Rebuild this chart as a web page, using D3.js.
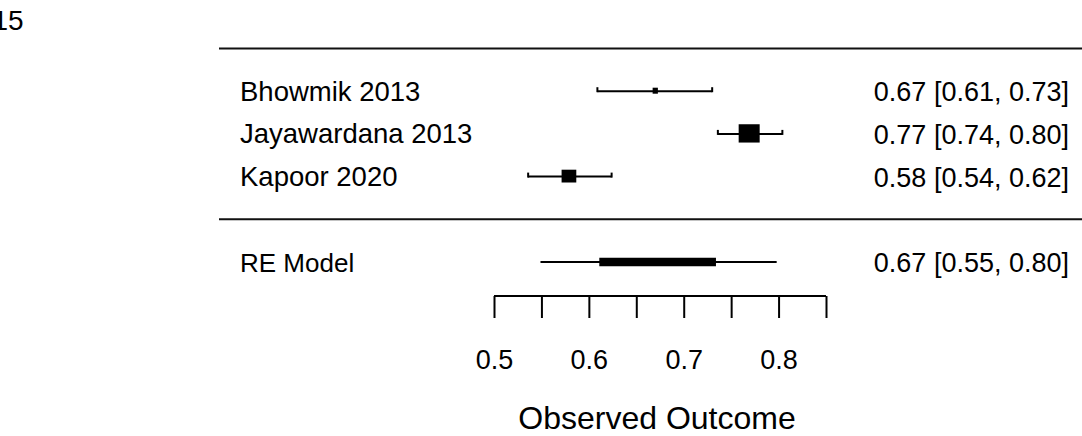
<!DOCTYPE html>
<html>
<head>
<meta charset="utf-8">
<script src="https://cdn.jsdelivr.net/npm/d3@7"></script>
<style>
  html, body { margin: 0; padding: 0; background: #fff; }
  svg { display: block; }
  text { font-family: "Liberation Sans", Arial, sans-serif; fill: #000; }
</style>
</head>
<body>
<svg id="chart" width="1082" height="436"></svg>
<script>
// ---- data ----
const studies   = ["Bhowmik 2013", "Jayawardana 2013", "Kapoor 2020"];
const estimates = [0.670, 0.769, 0.579];
const ciLower   = [0.609, 0.736, 0.536];
const ciUpper   = [0.730, 0.804, 0.624];
const weights   = [0.25, 1.0, 0.70];          // relative marker size
const rows      = [3, 2, 1];

const reLabel   = "RE Model";
const reEst     = 0.67;
const reLower   = 0.549;
const reUpper   = 0.798;
const reInner   = [0.611, 0.734];             // thick central segment

const tickValues = [0.50, 0.55, 0.60, 0.65, 0.70, 0.75, 0.80, 0.85];
const tickLabels = ["0.5", "0.6", "0.7", "0.8"];
const xTitle     = "Observed Outcome";
const cornerText = "15";

// ---- scales ----
const svg = d3.select("#chart");
const x = d3.scaleLinear().domain([0.5, 0.85]).range([494, 826]);
const y = d3.scaleLinear().domain([4, -1]).range([48.5, 262]);
const fmt = d3.format(".2f");

// corner text (clipped at the left edge, as in the reference)
svg.append("text").attr("x", -7.5).attr("y", 30)
  .attr("font-size", 28).text(cornerText);

// horizontal rules
[4, 0].forEach(r => {
  svg.append("line")
    .attr("x1", 219).attr("x2", 1082)
    .attr("y1", y(r)).attr("y2", y(r))
    .attr("stroke", "#111").attr("stroke-width", 2);
});

// study rows
const g = svg.append("g");
studies.forEach((s, i) => {
  const yy = y(rows[i]);
  g.append("text").attr("x", 240).attr("y", yy + 9.5)
    .attr("font-size", 27.5).text(s);
  g.append("text").attr("x", 1069).attr("y", yy + 10)
    .attr("font-size", 27).attr("text-anchor", "end")
    .text(`${fmt(estimates[i])} [${fmt(ciLower[i])}, ${fmt(ciUpper[i])}]`);
  // CI line
  g.append("line").attr("x1", x(ciLower[i])).attr("x2", x(ciUpper[i]))
    .attr("y1", yy).attr("y2", yy)
    .attr("stroke", "#000").attr("stroke-width", 2);
  // caps
  [ciLower[i], ciUpper[i]].forEach(v => {
    g.append("line").attr("x1", x(v)).attr("x2", x(v))
      .attr("y1", yy - 4).attr("y2", yy + 1)
      .attr("stroke", "#000").attr("stroke-width", 2);
  });
  // square
  const w = Math.max(5, 21 * weights[i]);
  const h = Math.max(6, 18.3 * weights[i]);
  g.append("rect")
    .attr("x", x(estimates[i]) - w / 2).attr("y", yy - h / 2 - 0.5)
    .attr("width", w).attr("height", h).attr("fill", "#000");
});

// RE model row
const yr = y(-1);
svg.append("text").attr("x", 240).attr("y", yr + 10)
  .attr("font-size", 26).text(reLabel);
svg.append("text").attr("x", 1069).attr("y", yr + 10)
  .attr("font-size", 27).attr("text-anchor", "end")
  .text(`${fmt(reEst)} [${fmt(reLower)}, ${fmt(reUpper)}]`);
svg.append("line").attr("x1", x(reLower)).attr("x2", x(reUpper))
  .attr("y1", yr).attr("y2", yr)
  .attr("stroke", "#000").attr("stroke-width", 2);
svg.append("line").attr("x1", x(reInner[0])).attr("x2", x(reInner[1]))
  .attr("y1", yr).attr("y2", yr)
  .attr("stroke", "#000").attr("stroke-width", 8.5);

// x axis (ticks downward)
const axisY = 296;
const axis = d3.axisBottom(x)
  .tickValues(tickValues)
  .tickSize(22)
  .tickSizeOuter(0)
  .tickFormat(d => {
    const s = d3.format(".2f")(d);
    const lbl = d3.format(".1f")(d);
    return (s.endsWith("0") && tickLabels.includes(lbl)) ? lbl : "";
  });
const ax = svg.append("g").attr("transform", `translate(0,${axisY})`).call(axis);
ax.select(".domain").attr("stroke", "#000").attr("stroke-width", 2)
  .attr("d", `M${x(0.5)},0H${x(0.85)}`);
ax.selectAll(".tick line").attr("stroke", "#000").attr("stroke-width", 2);
ax.selectAll(".tick text")
  .attr("font-family", '"Liberation Sans", Arial, sans-serif')
  .attr("font-size", 27).attr("fill", "#000")
  .attr("dy", null).attr("y", 73);

// axis title
svg.append("text").attr("x", 657).attr("y", 429)
  .attr("font-size", 32).attr("text-anchor", "middle").text(xTitle);
</script>
</body>
</html>
